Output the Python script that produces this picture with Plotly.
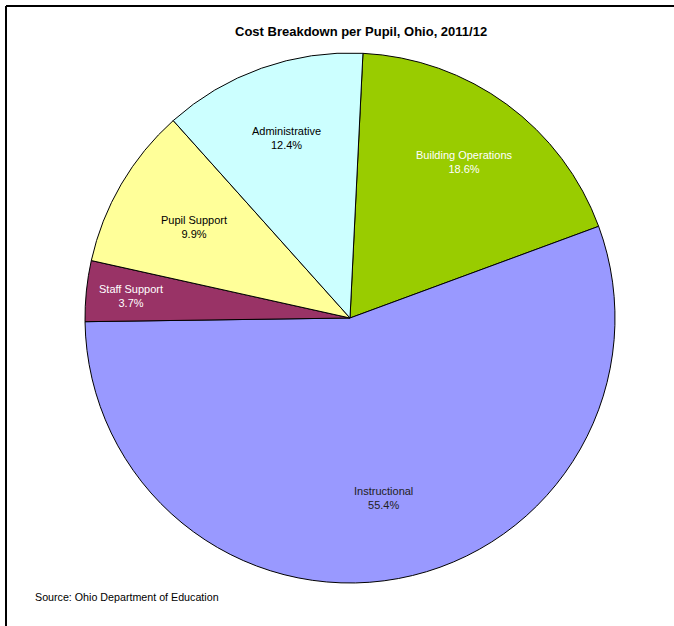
import math
import plotly.graph_objects as go

# slices listed clockwise from the top
labels = ["Building Operations", "Instructional", "Staff Support", "Pupil Support", "Administrative"]
shares = [18.6, 55.4, 3.7, 9.9, 12.4]
colors = ["#99CC00", "#9999FF", "#993366", "#FFFF99", "#CCFFFF"]
text_colors = ["white", "#222222", "white", "black", "black"]
label_radius = [0.73, 0.69, 0.83, 0.68, 0.72]  # fraction of pie radius

W, H = 674, 626
FONT = "Arial, Liberation Sans, sans-serif"
ROTATION = 2.8
CX, CY, R = 350, 318, 265  # pie centre / radius in px

fig = go.Figure(go.Pie(
    labels=labels, values=shares,
    sort=False, direction="clockwise", rotation=ROTATION,
    marker=dict(colors=colors, line=dict(color="black", width=1)),
    textinfo="none",
    domain=dict(x=[(CX - R) / W, (CX + R) / W], y=[(H - CY - R) / H, (H - CY + R) / H]),
    showlegend=False, hoverinfo="label+percent",
))

# slice labels placed along each slice's bisector
total = sum(shares)
cum = 0
for lab, val, col, rf in zip(labels, shares, text_colors, label_radius):
    ang = math.radians(ROTATION + 360 * (cum + val / 2) / total)
    cum += val
    px_ = CX + rf * R * math.sin(ang)
    py_ = CY - rf * R * math.cos(ang)
    fig.add_annotation(
        text=f"{lab}<br>{val:.1f}%", x=px_ / W, y=1 - py_ / H,
        xref="paper", yref="paper", xanchor="center", yanchor="middle",
        showarrow=False, align="center",
        font=dict(family=FONT, size=11, color=col),
    )

fig.add_annotation(
    text="<b>Cost Breakdown per Pupil, Ohio, 2011/12</b>",
    x=361 / W, y=1 - 31 / H, xref="paper", yref="paper", yanchor="middle",
    showarrow=False, font=dict(family=FONT, size=13, color="black"),
)
fig.add_annotation(
    text="Source: Ohio Department of Education",
    x=33 / W, y=1 - 597 / H, xref="paper", yref="paper", xanchor="left", yanchor="middle",
    showarrow=False, font=dict(family=FONT, size=10.7, color="black"),
)

# frame: top and left edges only
fig.add_shape(type="line", xref="paper", yref="paper", x0=6 / W, x1=1, y0=1 - 6 / H, y1=1 - 6 / H,
              line=dict(color="black", width=2))
fig.add_shape(type="line", xref="paper", yref="paper", x0=6 / W, x1=6 / W, y0=0, y1=1 - 6 / H,
              line=dict(color="black", width=2))

fig.update_layout(
    width=W, height=H,
    margin=dict(l=0, r=0, t=0, b=0),
    paper_bgcolor="white", plot_bgcolor="white",
)
fig.write_html("out.html", config={"displayModeBar": False},
               post_script="document.body.style.margin='0';")
